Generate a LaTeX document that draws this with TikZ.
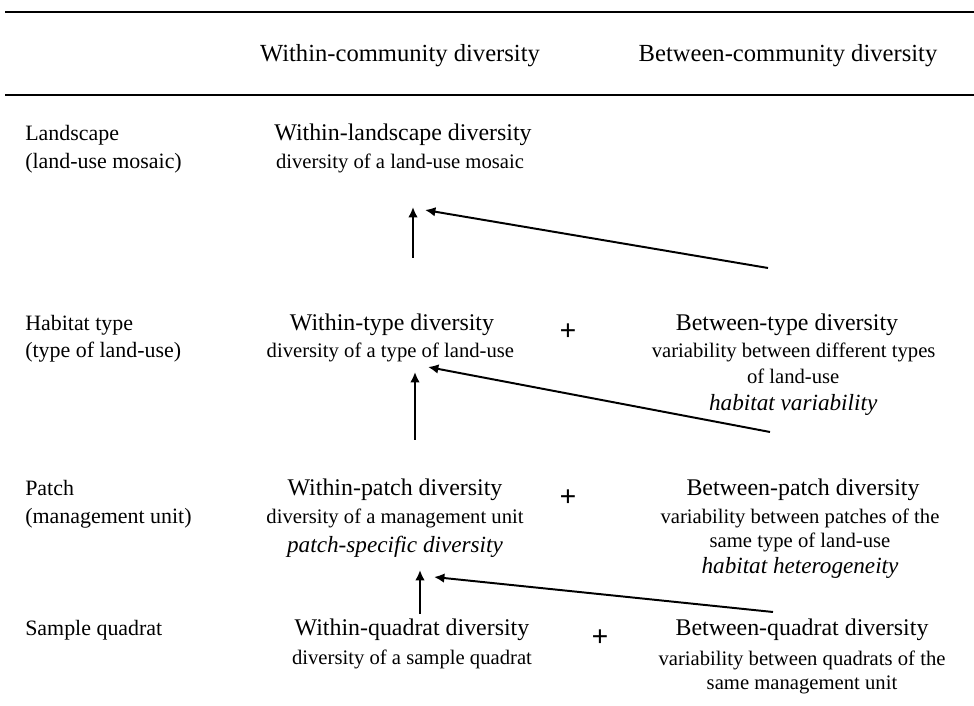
\documentclass[tikz,border=0pt]{standalone}
\usepackage{fontspec}
\setmainfont{Liberation Serif}
\usepackage{tikz}
\usetikzlibrary{arrows.meta}
\tikzstyle{levelArrow}=[line width=1.4pt, -{Latex[length=2.6mm,width=2.4mm]}]
\tikzstyle{headText}=[inner sep=0pt, anchor=base, font=\fontsize{17.5}{20}\selectfont]
\tikzstyle{levelText}=[inner sep=0pt, anchor=base west, font=\fontsize{15.6}{18}\selectfont]
\tikzstyle{titleText}=[inner sep=0pt, anchor=base, font=\fontsize{17}{20}\selectfont]
\tikzstyle{subText}=[inner sep=0pt, anchor=base, font=\fontsize{14.7}{17}\selectfont]
\tikzstyle{termText}=[inner sep=0pt, anchor=base, font=\fontsize{16.5}{19}\selectfont\itshape]
\tikzstyle{plusText}=[inner sep=0pt, font=\fontsize{21}{24}\selectfont\bfseries]

\begin{document}
\begin{tikzpicture}
  \useasboundingbox (0,0) rectangle (24.35,-17.65);

  % Rules and header
  \draw[line width=1.8pt] (0.125,-0.3) -- (24.35,-0.3);
  \draw[line width=1.1pt] (0.125,-2.375) -- (24.35,-2.375);
  \node (withincomm) at (10.0,-1.55) [headText] {Within-community diversity};
  \node (betweencomm) at (19.7,-1.55) [headText] {Between-community diversity};

  % Level labels
  \node (landscape) at (0.625,-3.525) [levelText] {Landscape};
  \node (landscapesub) at (0.625,-4.225) [levelText] {(land-use mosaic)};
  \node (habitat) at (0.625,-8.275) [levelText] {Habitat type};
  \node (habitatsub) at (0.625,-8.95) [levelText] {(type of land-use)};
  \node (patch) at (0.625,-12.4) [levelText] {Patch};
  \node (patchsub) at (0.625,-13.1) [levelText] {(management unit)};
  \node (quadrat) at (0.625,-15.9) [levelText] {Sample quadrat};

  % Within-community column
  \node (wland) at (10.075,-3.525) [titleText] {Within-landscape diversity};
  \node (wlandsub) at (10.0,-4.225) [subText] {diversity of a land-use mosaic};

  \node (wtype) at (9.8,-8.275) [titleText] {Within-type diversity};
  \node (wtypesub) at (9.76,-8.95) [subText] {diversity of a type of land-use};

  \node (wpatch) at (9.875,-12.4) [titleText] {Within-patch diversity};
  \node (wpatchsub) at (9.875,-13.1) [subText] {diversity of a management unit};
  \node (wpatchterm) at (9.875,-13.825) [termText] {patch-specific diversity};

  \node (wquad) at (10.3,-15.9) [titleText] {Within-quadrat diversity};
  \node (wquadsub) at (10.3,-16.625) [subText] {diversity of a sample quadrat};

  % Plus signs
  \node (plustype) at (14.2,-8.3) [plusText] {+};
  \node (pluspatch) at (14.2,-12.45) [plusText] {+};
  \node (plusquad) at (15.0,-15.95) [plusText] {+};

  % Between-community column
  \node (btype) at (19.675,-8.275) [titleText] {Between-type diversity};
  \node (btypesub) at (19.84,-8.95) [subText] {variability between different types};
  \node (btypesubb) at (19.83,-9.6) [subText] {of land-use};
  \node (btypeterm) at (19.83,-10.275) [termText] {habitat variability};

  \node (bpatch) at (20.075,-12.4) [titleText] {Between-patch diversity};
  \node (bpatchsub) at (20.0,-13.1) [subText] {variability between patches of the};
  \node (bpatchsubb) at (20.0,-13.7) [subText] {same type of land-use};
  \node (bpatchterm) at (20.0,-14.35) [termText] {habitat heterogeneity};

  \node (bquad) at (20.05,-15.9) [titleText] {Between-quadrat diversity};
  \node (bquadsub) at (20.05,-16.65) [subText] {variability between quadrats of the};
  \node (bquadsubb) at (20.05,-17.25) [subText] {same management unit};

  % Arrow ends
  \coordinate (uptype) at (10.325,-6.45);
  \coordinate (tipland) at (10.325,-5.175);
  \coordinate (fromtype) at (19.2,-6.7);
  \coordinate (sidetipland) at (10.625,-5.25);

  \coordinate (uppatch) at (10.375,-11.0);
  \coordinate (tiptype) at (10.375,-9.3);
  \coordinate (frompatch) at (19.25,-10.8);
  \coordinate (sidetiptype) at (10.7,-9.175);

  \coordinate (upquad) at (10.5,-15.35);
  \coordinate (tippatch) at (10.5,-14.25);
  \coordinate (fromquad) at (19.325,-15.3);
  \coordinate (sidetippatch) at (10.85,-14.425);

  % Arrows
  \draw[levelArrow] (uptype) -- (tipland);
  \draw[levelArrow] (fromtype) -- (sidetipland);
  \draw[levelArrow] (uppatch) -- (tiptype);
  \draw[levelArrow] (frompatch) -- (sidetiptype);
  \draw[levelArrow] (upquad) -- (tippatch);
  \draw[levelArrow] (fromquad) -- (sidetippatch);

\end{tikzpicture}
\end{document}
